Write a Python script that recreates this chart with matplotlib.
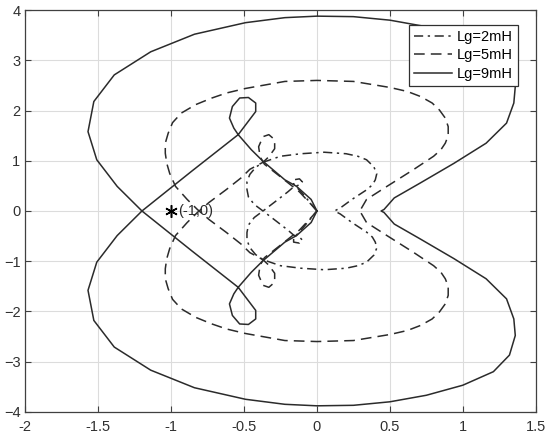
import numpy as np
import matplotlib
matplotlib.use('Agg')
import matplotlib.pyplot as plt


#Upper-half paths read off the picture (start at the real-axis cusp, end at origin)
#the other half of each curve is its mirror image about the real axis
x_9mH = [0.44, 0.46, 0.53, 0.71, 0.94, 1.16, 1.30, 1.35, 1.36, 1.32, 1.21, 1.00, 0.75,
         0.50, 0.25, 0.00, -0.22, -0.49, -0.84, -1.14, -1.39, -1.53, -1.57, -1.51,
         -1.37, -1.20, -0.86, -0.54, -0.42, -0.42, -0.47, -0.53, -0.58, -0.60, -0.57,
         -0.54, -0.45, -0.37, -0.22, -0.14, -0.04, 0.00]
y_9mH = [0.00, 0.03, 0.26, 0.56, 0.95, 1.35, 1.75, 2.15, 2.48, 2.87, 3.20, 3.47, 3.67,
         3.80, 3.87, 3.88, 3.85, 3.75, 3.52, 3.17, 2.71, 2.18, 1.58, 1.02,
         0.49, 0.00, -0.79, -1.52, -1.98, -2.15, -2.26, -2.25, -2.08, -1.85, -1.65,
         -1.52, -1.22, -0.99, -0.62, -0.49, -0.23, 0.00]

x_5mH = [0.29, 0.30, 0.34, 0.48, 0.66, 0.80, 0.85, 0.88, 0.90, 0.90, 0.88, 0.84, 0.79,
         0.71, 0.62, 0.50, 0.25, 0.00, -0.22, -0.49, -0.62, -0.72, -0.83, -0.93, -0.99,
         -1.02, -1.04, -1.04, -1.03, -1.01, -0.97, -0.89, -0.82, -0.74,
         -0.62, -0.52, -0.46, -0.37, -0.33, -0.29, -0.29, -0.33, -0.37, -0.40, -0.39,
         -0.36, -0.25, -0.12, -0.04, 0.00]
y_5mH = [0.00, 0.03, 0.23, 0.49, 0.82, 1.09, 1.22, 1.35, 1.50, 1.68, 1.85, 2.01, 2.15,
         2.28, 2.38, 2.46, 2.58, 2.60, 2.58, 2.44, 2.35, 2.25, 2.12, 1.95, 1.76,
         1.55, 1.35, 1.15, 0.95, 0.75, 0.49, 0.23, 0.03, -0.17,
         -0.43, -0.66, -0.83, -0.97, -1.08, -1.24, -1.42, -1.52, -1.48, -1.28, -1.08,
         -0.93, -0.68, -0.38, -0.13, 0.00]

x_2mH = [0.12, 0.16, 0.24, 0.34, 0.38, 0.40, 0.41, 0.39, 0.34, 0.28, 0.20, 0.05, -0.11,
         -0.25, -0.37, -0.42, -0.46, -0.48, -0.48, -0.47, -0.43, -0.37, -0.28, -0.20,
         -0.16, -0.12, -0.10, -0.12, -0.16, -0.16, -0.10, -0.04, 0.00]
y_2mH = [0.00, 0.06, 0.23, 0.42, 0.52, 0.62, 0.74, 0.88, 1.02, 1.09, 1.14, 1.17, 1.14,
         1.09, 0.97, 0.87, 0.73, 0.58, 0.43, 0.28, 0.13, 0.00, -0.20, -0.38,
         -0.48, -0.52, -0.58, -0.64, -0.62, -0.54, -0.35, -0.14, 0.00]

labels = ['Lg=2mH', 'Lg=5mH', 'Lg=9mH']
xticks = [-2, -1.5, -1, -0.5, 0, 0.5, 1, 1.5]
yticks = [-4, -3, -2, -1, 0, 1, 2, 3, 4]


def full_curve(x, y):
    #mirror the path about the real axis and join both halves
    x = np.array(x)
    y = np.array(y)
    xs = np.concatenate([x[::-1], x[1:]])
    ys = np.concatenate([-y[::-1], y[1:]])
    return xs, ys


plt.rcParams['font.family'] = ['Liberation Sans', 'DejaVu Sans']
plt.rcParams['font.size'] = 10

fig = plt.figure(figsize=(5.5, 4.4), dpi=100)
ax = fig.add_axes([0.046, 0.064, 0.928, 0.913])

col = '#2b2b2b'
styles = [(0, (6, 3, 1.5, 3)), (0, (7, 4)), '-']
data = [(x_2mH, y_2mH), (x_5mH, y_5mH), (x_9mH, y_9mH)]

for (xx, yy), ls, lab in zip(data, styles, labels):
    cx, cy = full_curve(xx, yy)
    ax.plot(cx, cy, color=col, linestyle=ls, linewidth=1.1, label=lab)

#critical point
ax.plot(-1, 0, marker=(6, 2, 0), color='black', markersize=9, markeredgewidth=1.1,
        linestyle='none')
ax.text(-0.95, 0, '(-1,0)', va='center', ha='left', color=col, fontsize=10.5)

ax.set_xlim(-2, 1.5)
ax.set_ylim(-4, 4)
ax.set_xticks(xticks)
ax.set_xticklabels([('%g' % t) for t in xticks])
ax.set_yticks(yticks)
ax.grid(True, color='#dcdcdc', linewidth=0.8)
ax.set_axisbelow(True)
ax.tick_params(direction='in', top=True, right=True, length=4, colors='#404040',
               labelcolor='#303030', labelsize=10.5)
ax.tick_params(axis='x', pad=6)
for s in ax.spines.values():
    s.set_color('#404040')
    s.set_linewidth(0.9)

leg = ax.legend(loc='upper right', bbox_to_anchor=(0.965, 0.963), borderaxespad=0,
                fancybox=False, framealpha=1, edgecolor='#303030', handlelength=2.6,
                fontsize=10.5, borderpad=0.35, labelspacing=0.3, handletextpad=0.3)
leg.get_frame().set_linewidth(0.9)

fig.savefig('out.png', dpi=100)
